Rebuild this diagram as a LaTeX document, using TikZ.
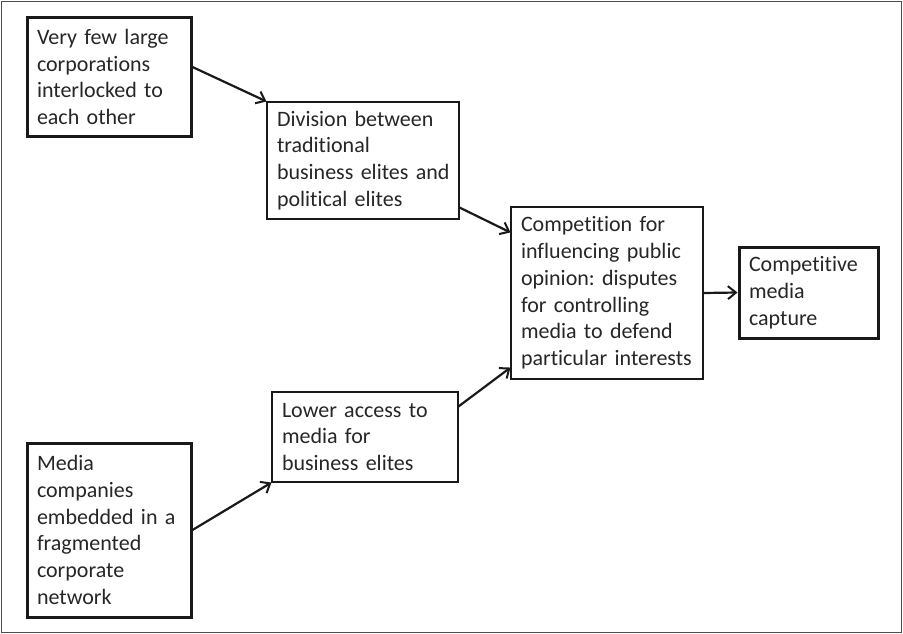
\documentclass[tikz,border=0pt]{standalone}
\usepackage{fontspec}
\setmainfont{Carlito}[Ligatures={NoCommon}]
\frenchspacing
\usetikzlibrary{arrows.meta}
\begin{document}
\begin{tikzpicture}
			[x=1pt,y=-1pt,
			every node/.style={rectangle, draw=black!90, text=black!85, inner sep=0pt, align=left,
				font=\fontsize{22}{26.8}\selectfont},
			thickbox/.style={line width=3pt},
			thinbox/.style={line width=1.1pt},
			link/.style={line width=2.2pt, black!90, -{Straight Barb[length=8pt,width=13pt,line width=2pt]}}]
			\useasboundingbox (0,0) rectangle (903,634);
			\draw[black!70, line width=1.3pt] (1.5,1.5) rectangle (901.5,632.5);
			
			\node[thickbox, minimum width=164pt, minimum height=118pt, text width=144pt] (n1) at (109,77)
				{Very few large\\corporations\\interlocked to\\each other};
			\node[thinbox, minimum width=192pt, minimum height=117pt, text width=172pt] (n2) at (363,160.5)
				{Division between\\traditional\\\mbox{business elites and}\\political elites};
			\node[thinbox, minimum width=192pt, minimum height=172pt, text width=172pt] (n3) at (607,293)
				{Competition for\\influencing public\\opinion: disputes\\for controlling\\media to defend\\\mbox{particular interests}};
			\node[thickbox, minimum width=139pt, minimum height=91pt, text width=119pt] (n4) at (808.5,292.5)
				{Competitive\\media\\capture};
			\node[thinbox, minimum width=186pt, minimum height=90pt, text width=166pt] (n5) at (365,437)
				{Lower access to\\media for\\business elites};
			\node[thickbox, minimum width=164pt, minimum height=174pt, text width=144pt] (n6) at (109,530)
				{Media\\companies\\embedded in a\\fragmented\\corporate\\network};
			
			\foreach \from/\fs/\to/\ts in {n1.east/10pt/n2.north west/0pt,
				n2.south east/12pt/n3.north west/-26pt,
				n5.north east/-15pt/n3.south west/12pt,
				n6.east/0pt/n5.south west/0pt,
				n3.east/0pt/n4.west/0pt}
			\draw[link] ([yshift=\fs]\from) -- ([yshift=\ts]\to);
			\end{tikzpicture}
\end{document}
